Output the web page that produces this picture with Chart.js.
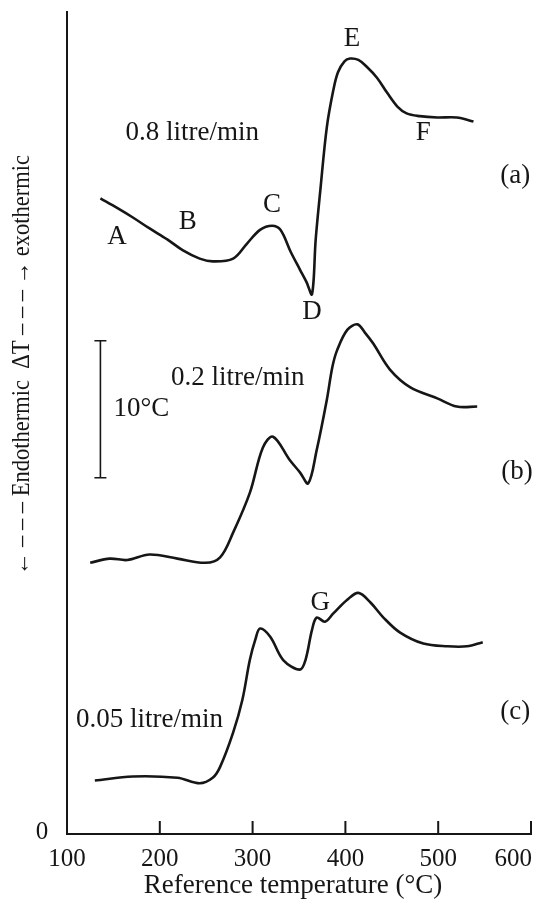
<!DOCTYPE html>
<html>
<head>
<meta charset="utf-8">
<title>DTA</title>
<script src="https://cdn.jsdelivr.net/npm/chart.js@4/dist/chart.umd.min.js"></script>
<style>
  html, body { margin: 0; padding: 0; background: #fff; }
  #contenedor { width: 538px; height: 901px; position: relative; }
</style>
</head>
<body>
<div id="contenedor"><canvas id="graficoDTA"></canvas></div>
<script>
// Temperaturas de referencia (°C) y ΔT (escala en °C) de cada curva
const tempA = [136, 154, 171, 189, 208, 225, 243, 257, 279, 294, 308, 321, 330, 341, 351, 358, 364,
  368, 373, 380, 387, 392, 399, 405, 414, 423, 434, 445, 456, 466, 480, 499, 520, 538];
const deltaA = [46.4, 45.7, 45.0, 44.2, 43.4, 42.6, 42.0, 41.8, 42.0, 43.1, 44.1, 44.4, 44.1, 42.5, 41.2, 40.3, 39.4,
  43.4, 47.0, 51.6, 54.3, 55.6, 56.4, 56.6, 56.5, 56.0, 55.2, 54.1, 53.1, 52.6, 52.4, 52.3, 52.3, 52.0];

const tempB = [125, 146, 165, 189, 219, 249, 265, 279, 297, 311, 322, 340, 351, 360,
  369, 380, 386, 391, 402, 413, 421, 430, 448, 470, 499, 520, 542];
const deltaB = [19.8, 20.1, 20.0, 20.4, 20.1, 19.8, 20.2, 22.0, 24.9, 28.2, 29.0, 27.3, 26.4, 25.6,
  28.0, 31.7, 34.1, 35.3, 36.8, 37.2, 36.6, 35.8, 33.9, 32.6, 31.8, 31.2, 31.2];

const tempC = [130, 171, 219, 243, 257, 265, 279, 289, 297, 303, 308, 319, 333, 351, 357, 364,
  369, 378, 387, 402, 414, 427, 441, 459, 484, 510, 531, 548];
const deltaC = [3.9, 4.2, 4.1, 3.7, 4.1, 4.9, 7.4, 9.8, 12.7, 14.2, 15.0, 14.4, 12.7, 12.0, 12.7, 14.9,
  15.8, 15.5, 16.1, 17.1, 17.6, 16.9, 15.8, 14.7, 13.9, 13.7, 13.7, 14.0];

const ticksTemp = [100, 200, 300, 400, 500, 600];
const etiquetasTemp = ['100', '200', '300', '400', '500', '600'];
const escalaDelta = 10; // barra de escala: 10°C

const TINTA = '#161616';
const FUENTE = '"Liberation Serif", "DejaVu Serif", serif';

const puntos = (ts, vs) => ts.map((t, i) => ({ x: t, y: vs[i] }));

// Rótulos sobre las curvas, en coordenadas de datos
const rotulos = [
  { texto: '0.8 litre/min', t: 235, v: 51.2 },
  { texto: 'A', t: 154, v: 43.6 },
  { texto: 'B', t: 230, v: 44.7 },
  { texto: 'C', t: 321, v: 45.9 },
  { texto: 'D', t: 364, v: 38.1 },
  { texto: 'E', t: 407, v: 58.0 },
  { texto: 'F', t: 484, v: 51.2 },
  { texto: '(a)', t: 583, v: 48.0 },
  { texto: '0.2 litre/min', t: 284, v: 33.3 },
  { texto: '(b)', t: 585, v: 26.4 },
  { texto: 'G', t: 373, v: 16.9 },
  { texto: '0.05 litre/min', t: 189, v: 8.3 },
  { texto: '(c)', t: 583, v: 8.9 }
];

const dibujoEjes = {
  id: 'dibujoEjes',
  afterDraw(chart) {
    const { ctx, scales: { x, y } } = chart;
    const x0 = x.getPixelForValue(100);
    const x1 = x.getPixelForValue(600);
    const y0 = y.getPixelForValue(0);
    const yTope = y.getPixelForValue(60);

    ctx.save();
    ctx.strokeStyle = TINTA;
    ctx.fillStyle = TINTA;
    ctx.lineWidth = 2;
    ctx.lineCap = 'square';

    // ejes
    ctx.beginPath();
    ctx.moveTo(x0, yTope);
    ctx.lineTo(x0, y0);
    ctx.lineTo(x1, y0);
    ticksTemp.slice(1).forEach(t => {
      const px = x.getPixelForValue(t);
      ctx.moveTo(px, y0);
      ctx.lineTo(px, y0 - 12);
    });
    ctx.stroke();

    // etiquetas del eje x (la última se apoya en el borde)
    ctx.font = '25px ' + FUENTE;
    ctx.textBaseline = 'middle';
    ticksTemp.forEach((t, i) => {
      const ultima = i === ticksTemp.length - 1;
      ctx.textAlign = ultima ? 'right' : 'center';
      ctx.fillText(etiquetasTemp[i], x.getPixelForValue(t) + (ultima ? 1 : 0), y0 + 25);
    });
    ctx.textAlign = 'center';
    ctx.fillText('0', x0 - 25, y0 - 2);
    ctx.font = '27px ' + FUENTE;
    ctx.fillText('Reference temperature (°C)', (x0 + x1) / 2 - 6, y0 + 52);

    // título del eje y, girado y algo estrecho
    ctx.save();
    ctx.font = '25px ' + FUENTE;
    ctx.translate(22, 365);
    ctx.rotate(-Math.PI / 2);
    ctx.scale(0.9, 1);
    ctx.fillText('\u2190 \u2013 \u2013 \u2013 Endothermic  \u0394T \u2013 \u2013 \u2013 \u2192 exothermic', 0, 0);
    ctx.restore();

    // barra de escala de 10°C
    const bx = x.getPixelForValue(136);
    const bTop = y.getPixelForValue(26 + escalaDelta);
    const bBot = y.getPixelForValue(26);
    ctx.lineWidth = 1.6;
    ctx.lineCap = 'butt';
    ctx.beginPath();
    ctx.moveTo(bx, bTop); ctx.lineTo(bx, bBot);
    ctx.moveTo(bx - 6, bTop); ctx.lineTo(bx + 6, bTop);
    ctx.moveTo(bx - 6, bBot); ctx.lineTo(bx + 6, bBot);
    ctx.stroke();
    ctx.font = '27px ' + FUENTE;
    ctx.textAlign = 'left';
    ctx.fillText(escalaDelta + '°C', bx + 13, (bTop + bBot) / 2);

    // rótulos
    ctx.textAlign = 'center';
    rotulos.forEach(r => {
      ctx.fillText(r.texto, x.getPixelForValue(r.t), y.getPixelForValue(r.v));
    });
    ctx.restore();
  }
};

const estiloCurva = {
  borderColor: TINTA,
  borderWidth: 2.6,
  pointRadius: 0,
  fill: false,
  tension: 0.35,
  clip: false
};

new Chart(document.getElementById('graficoDTA'), {
  type: 'line',
  data: {
    datasets: [
      { label: '0.8 litre/min', data: puntos(tempA, deltaA), ...estiloCurva },
      { label: '0.2 litre/min', data: puntos(tempB, deltaB), ...estiloCurva },
      { label: '0.05 litre/min', data: puntos(tempC, deltaC), ...estiloCurva }
    ]
  },
  options: {
    responsive: true,
    maintainAspectRatio: false,
    animation: false,
    layout: { padding: { left: 67, right: 7, top: 12, bottom: 67 } },
    scales: {
      x: { type: 'linear', min: 100, max: 600, display: false },
      y: { type: 'linear', min: 0, max: 60, display: false }
    },
    plugins: {
      legend: { display: false },
      tooltip: { enabled: false }
    }
  },
  plugins: [dibujoEjes]
});
</script>
</body>
</html>
